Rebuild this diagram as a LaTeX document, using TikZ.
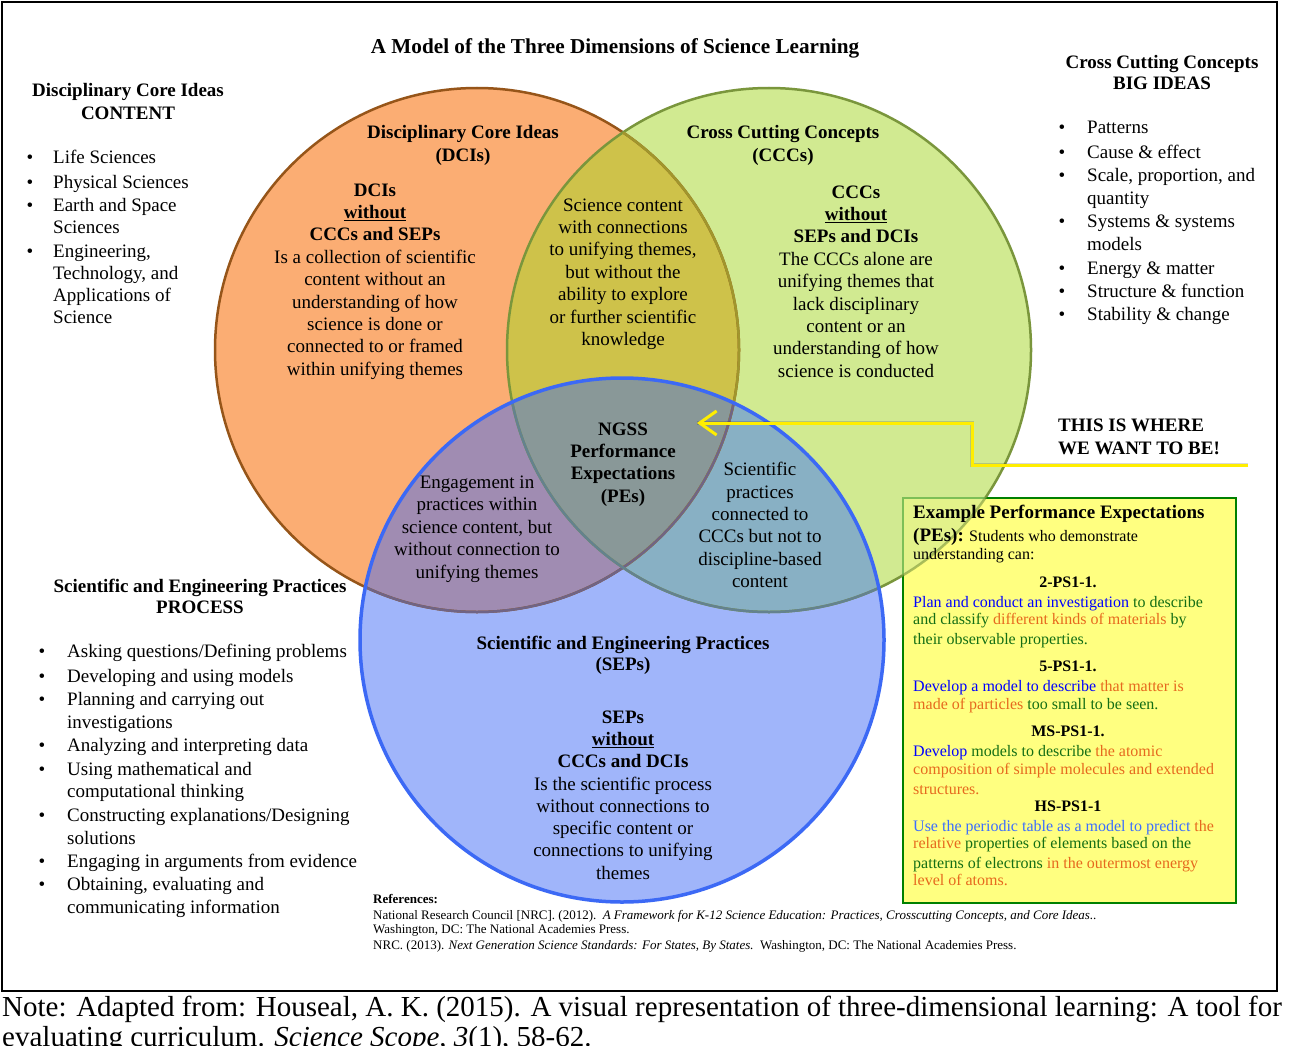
\documentclass[tikz,border=0pt]{standalone}
\usepackage{fontspec}
\setmainfont{Liberation Serif}
\usetikzlibrary{arrows.meta}

\definecolor{dcifill}{RGB}{251,173,115}
\definecolor{cccfill}{RGB}{209,234,145}
\definecolor{sepfill}{RGB}{160,181,250}
\definecolor{dcicccfill}{RGB}{206,194,74}
\definecolor{dcisepfill}{RGB}{160,140,178}
\definecolor{cccsepfill}{RGB}{136,176,196}
\definecolor{allfill}{RGB}{137,152,152}
\definecolor{dciline}{RGB}{150,85,25}
\definecolor{dcilinegreen}{RGB}{160,150,45}
\definecolor{dcilineblue}{RGB}{112,100,132}
\definecolor{cccline}{RGB}{122,150,60}
\definecolor{ccclineblue}{RGB}{100,130,142}
\definecolor{sepline}{RGB}{60,105,245}
\definecolor{peyellow}{RGB}{255,255,128}
\definecolor{pegreen}{RGB}{0,128,0}
\definecolor{arrowyellow}{RGB}{255,238,0}
\definecolor{txtblue}{RGB}{0,0,255}
\definecolor{txtgreen}{RGB}{20,110,20}
\definecolor{txtorange}{RGB}{230,105,30}
\definecolor{txtsky}{RGB}{60,110,255}

\newcommand\pblue[1]{\textcolor{txtblue}{#1}}
\newcommand\pgreen[1]{\textcolor{txtgreen}{#1}}
\newcommand\porange[1]{\textcolor{txtorange}{#1}}
\newcommand\psky[1]{\textcolor{txtsky}{#1}}

\begin{document}
\begin{tikzpicture}[x=1pt,y=-1pt,
  txt/.style={font=\fontsize{19}{22.4}\selectfont, align=center, inner sep=0pt},
  hd/.style={txt, font=\fontsize{19}{22.8}\selectfont\bfseries},
  litem/.style={font=\fontsize{19}{22}\selectfont, anchor=west, inner sep=0pt, text height=13pt, text depth=4pt},
  bul/.style={litem, anchor=center},
  pe/.style={font=\fontsize{16}{18}\selectfont, anchor=west, inner sep=0pt, text height=11pt, text depth=3.5pt},
  pehd/.style={pe, anchor=center, font=\fontsize{16}{18}\selectfont\bfseries},
  refline/.style={font=\fontsize{13}{14}\selectfont, anchor=west, inner sep=0pt, text height=9pt, text depth=2.5pt},
  note/.style={font=\fontsize{29}{30}\selectfont, anchor=west, inner sep=0pt, text height=19pt, text depth=6pt}
  ]

\useasboundingbox (0,0) rectangle (1290,1046);
\fill[white] (0,0) rectangle (1290,1046);

\newcommand\vennr{262}
\coordinate (cD) at (477,350);
\coordinate (cC) at (769,350);
\coordinate (cS) at (622,640);

\fill[dcifill] (cD) circle (\vennr);
\fill[cccfill] (cC) circle (\vennr);
\fill[sepfill] (cS) circle (\vennr);
\begin{scope}
  \clip (cD) circle (\vennr);
  \fill[dcicccfill] (cC) circle (\vennr);
  \fill[dcisepfill] (cS) circle (\vennr);
\end{scope}
\begin{scope}
  \clip (cC) circle (\vennr);
  \fill[cccsepfill] (cS) circle (\vennr);
  \clip (cD) circle (\vennr);
  \fill[allfill] (cS) circle (\vennr);
\end{scope}

\draw[dciline, line width=2.5] (cD) circle (\vennr);
\draw[cccline, line width=2.5] (cC) circle (\vennr);
\begin{scope}
  \clip (cC) circle (\vennr);
  \draw[dcilinegreen, line width=2.5] (cD) circle (\vennr);
\end{scope}
\begin{scope}
  \clip (cS) circle (\vennr);
  \draw[dcilineblue, line width=2.5] (cD) circle (\vennr);
  \draw[ccclineblue, line width=2.5] (cC) circle (\vennr);
\end{scope}
\draw[sepline, line width=3.5] (cS) circle (\vennr);

\draw[line width=2.5] (2,2) rectangle (1277,991);

\node[draw=pegreen, fill=peyellow, line width=2, minimum width=333, minimum height=405, anchor=north west, inner sep=0pt] (pebox) at (902,497) {};
\begin{scope}
  \clip (pebox.north west) rectangle (pebox.south east);
  \fill[cccfill, opacity=0.6] (cC) circle (\vennr);
  \draw[cccline, line width=2.5, opacity=0.6] (cC) circle (\vennr);
\end{scope}

\coordinate (wantend) at (1248,465);
\coordinate (petip) at (697,423);
\draw[black, opacity=0.15, line width=4, shift={(2,3)}] (wantend) -- ++(-276,0) |- (petip);
\draw[arrowyellow, line width=3, -{Straight Barb[length=17pt,width=24pt,line width=3pt]}] (wantend) -- ++(-276,0) |- (petip);

\node[hd, font=\fontsize{21.2}{24}\selectfont\bfseries] (title) at (615,48) {A Model of the Three Dimensions of Science Learning};

\node[hd] (dcihead) at (128,101.5) {Disciplinary Core Ideas\\CONTENT};
\node[hd, font=\fontsize{19}{21}\selectfont\bfseries] (ccchead) at (1162,72.5) {Cross Cutting Concepts\\BIG IDEAS};
\node[hd, font=\fontsize{19}{21}\selectfont\bfseries] (sephead) at (200,596.5) {Scientific and Engineering Practices\\PROCESS};

\foreach \y/\t [count=\i] in {159/Life Sciences,184/Physical Sciences,207/Earth and Space,229/Sciences,253/{Engineering,},275/{Technology, and},297/Applications of,319/Science}
  \node[litem] (dci\i) at (53,\y) {\t};
\foreach \y in {159,184,207,253}
  \node[bul] (dcib\y) at (30,\y) {\textbullet};

\foreach \y/\t [count=\i] in {129/Patterns,154/Cause \& effect,177/{Scale, proportion, and},200/quantity,223/Systems \& systems,246/models,270/Energy \& matter,293/Structure \& function,316/Stability \& change}
  \node[litem] (ccc\i) at (1087,\y) {\t};
\foreach \y in {129,154,177,223,270,293,316}
  \node[bul] (cccb\y) at (1062,\y) {\textbullet};

\foreach \y/\t [count=\i] in {653/{Asking questions/Defining problems},678/Developing and using models,701/Planning and carrying out,724/investigations,747/Analyzing and interpreting data,771/Using mathematical and,793/computational thinking,817/{Constructing explanations/Designing},840/solutions,863/Engaging in arguments from evidence,886/{Obtaining, evaluating and},909/communicating information}
  \node[litem] (sep\i) at (67,\y) {\t};
\foreach \y in {653,678,701,747,771,817,863,886}
  \node[bul] (sepb\y) at (42,\y) {\textbullet};

\node[hd] (dcititle) at (463,145.5) {Disciplinary Core Ideas\\(DCIs)};
\node[txt] (dcionly) at (375,281.5) {\textbf{DCIs}\\\textbf{\underline{without}}\\\textbf{CCCs and SEPs}\\Is a collection of scientific\\content without an\\understanding of how\\science is done or\\connected to or framed\\within unifying themes};
\node[txt] (dciccc) at (623,274) {Science content\\with connections\\to unifying themes,\\but without the\\ability to explore\\or further scientific\\knowledge};
\node[hd] (ccctitle) at (783,145.5) {Cross Cutting Concepts\\(CCCs)};
\node[txt] (ccconly) at (856,281.5) {\textbf{CCCs}\\\textbf{\underline{without}}\\\textbf{SEPs and DCIs}\\The CCCs alone are\\unifying themes that\\lack disciplinary\\content or an\\understanding of how\\science is conducted};
\node[hd, font=\fontsize{19}{22.3}\selectfont\bfseries] (ngss) at (623,464.5) {NGSS\\Performance\\Expectations\\(PEs)};
\node[txt, font=\fontsize{19}{22.5}\selectfont] (dcisep) at (477,529) {Engagement in\\practices within\\science content, but\\without connection to\\unifying themes};
\node[txt] (cccsep) at (760,525) {Scientific\\practices\\connected to\\CCCs but not to\\discipline-based\\content};
\node[hd, font=\fontsize{19}{21}\selectfont\bfseries] (septitle) at (623,655.5) {Scientific and Engineering Practices\\(SEPs)};
\node[txt, font=\fontsize{19}{22.3}\selectfont] (seponly) at (623,795) {\textbf{SEPs}\\\textbf{\underline{without}}\\\textbf{CCCs and DCIs}\\Is the scientific process\\without connections to\\specific content or\\connections to unifying\\themes};

\node[hd, align=left, anchor=west] (wantbe) at (1058,436.5) {THIS IS WHERE\\WE WANT TO BE!};

\node[pe, font=\fontsize{19}{22}\selectfont\bfseries, text height=13pt, text depth=4pt] (pehead) at (913,514) {Example Performance Expectations};
\node[pe, text height=13pt, text depth=4pt] (pesub) at (913,537) {{\fontsize{19}{22}\selectfont\bfseries (PEs):} Students who demonstrate};
\node[pe] (pesub2) at (913,556) {understanding can:};
\foreach \y/\t [count=\i] in {584/2-PS1-1.,668/5-PS1-1.,733/MS-PS1-1.,808/HS-PS1-1}
  \node[pehd] (pecode\i) at (1068,\y) {\t};
\foreach \y/\t [count=\i] in {
  604/{\pblue{Plan and conduct an investigation} \pgreen{to describe}},
  621/{\pgreen{and classify} \porange{different kinds of materials} \pgreen{by}},
  641/{\pgreen{their observable properties.}},
  688/{\pblue{Develop a model to describe} \porange{that matter is}},
  706/{\porange{made of particles} \pgreen{too small to be seen.}},
  753/{\pblue{Develop} \pgreen{models to describe} \porange{the atomic}},
  771/{\porange{composition of simple molecules and extended}},
  791/{\porange{structures.}},
  828/{\psky{Use the periodic table as a model to predict} \porange{the}},
  845/{\porange{relative} \pgreen{properties of elements based on the}},
  865/{\pgreen{patterns of electrons} \porange{in the outermost energy}},
  882/{\porange{level of atoms.}}}
  \node[pe] (petext\i) at (913,\y) {\t};

\node[refline, font=\fontsize{13}{14}\selectfont\bfseries] (refhead) at (373,900) {References:};
\node[refline] (ref1) at (373,916) {National Research Council [NRC]. (2012).\ \ \textit{A Framework for K-12 Science Education: Practices, Crosscutting Concepts, and Core Ideas.}.};
\node[refline] (ref2) at (373,930) {Washington, DC: The National Academies Press.};
\node[refline] (ref3) at (373,946) {NRC. (2013). \textit{Next Generation Science Standards: For States, By States.}\ \ Washington, DC: The National Academies Press.};

\node[note] (note1) at (2,1010) {Note: Adapted from: Houseal, A. K. (2015). A visual representation of three-dimensional learning: A tool for};
\node[note] (note2) at (2,1040) {evaluating curriculum. \textit{Science Scope, 3}(1), 58-62.};

\end{tikzpicture}
\end{document}
